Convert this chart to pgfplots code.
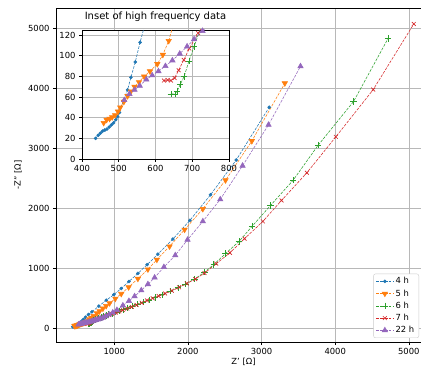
\documentclass[border=0pt]{standalone}
\usepackage{pgfplots}
\pgfplotsset{compat=1.18}
\usepackage{fontspec}
\setmainfont{DejaVu Sans}
\definecolor{c0}{HTML}{1F77B4}
\definecolor{c1}{HTML}{FF7F0E}
\definecolor{c2}{HTML}{2CA02C}
\definecolor{c3}{HTML}{D62728}
\definecolor{c4}{HTML}{9467BD}
\pgfplotsset{
  every axis/.append style={font=\fontsize{8.4bp}{10bp}\selectfont},
  common/.style={
    scale only axis, axis background/.style={fill=white},
    tick align=outside, tick pos=left, major tick length=3bp,
    grid=major, major grid style={color=black!28, line width=0.6bp},
    axis line style={line width=0.6bp}, every tick/.style={black, line width=0.6bp},
    /pgf/number format/assume math mode=true,
    /pgf/number format/1000 sep={}, scaled ticks=false,
  },
  ln/.style={line width=0.55bp, dash pattern=on 2.8bp off 1.3bp},
  s4/.style={ln, color=c0, mark=*, mark size=1.5bp, mark options={solid}},
  s5/.style={ln, color=c1, mark=triangle*, mark size=3.1bp, mark options={solid, rotate=180}},
  s6/.style={ln, color=c2, mark=+, mark size=3.2bp, mark options={solid, line width=0.65bp}},
  s7/.style={ln, color=c3, mark=x, mark size=2.7bp, mark options={solid, line width=0.65bp}},
  s22/.style={ln, color=c4, mark=triangle*, mark size=3.1bp, mark options={solid}},
}
\newcommand{\dA}{(437,20)(444,23)(450,25)(456,27)(462,28)(468,29)(474,31)(480,33)(486,35)(492,38)(497,41)(502,45)(512,56)(524,67)(533,79)(545,94)(558,113)(580,142)(610,180)(650,225)(697,270)(791,365)(892,463)(995,557)(1095,660)(1199,775)(1321,910)(1446,1055)(1592,1230)(1796,1483)(2027,1794)(2308,2221)(2656,2800)(3104,3679)}
\newcommand{\dB}{(459,35)(467,38)(475,39)(482,40.5)(490,42.5)(498,46)(504,50)(514,55.5)(524,61)(533,65.5)(543,70)(555,74.5)(569,80)(585,85)(605,92)(620,101)(636,114.5)(660,145)(688,172)(720,203)(764,245)(800,280)(846,325)(890,368)(937,415)(1015,490)(1095,570)(1195,680)(1321,822)(1457,978)(1579,1140)(1751,1361)(1955,1640)(2203,1985)(2511,2463)(2868,3116)(3316,4079)}
\newcommand{\dC}{(642,63)(653,63)(659,66)(667,72)(678,80)(691,95)(705,109)(722,126)(742,140)(765,152)(790,164)(818,177)(850,191)(886,207)(925,224)(968,243)(1015,263)(1065,285)(1120,309)(1180,335)(1245,364)(1315,396)(1390,430)(1470,467)(1557,507)(1652,555)(1761,612)(1864,670)(1968,735)(2090,815)(2226,930)(2352,1060)(2511,1240)(2692,1440)(2873,1697)(3122,2043)(3430,2465)(3769,3047)(4249,3774)(4719,4827)}
\newcommand{\dD}{(623,76)(633,76.5)(642,76)(652,78.5)(663,86)(677,96)(692,107)(716,122)(740,134)(765,146)(793,158)(823,171)(856,185)(892,200)(930,216)(972,234)(1018,254)(1067,276)(1120,299)(1177,324)(1238,352)(1303,384)(1372,420)(1445,460)(1522,495)(1603,533)(1690,575)(1782,622)(1880,678)(1985,742)(2100,815)(2226,915)(2385,1073)(2570,1253)(2769,1489)(3018,1777)(3271,2126)(3615,2587)(4009,3186)(4516,3973)(5067,5067)}
\newcommand{\dE}{(515,57)(529,63)(543,67)(557,71)(575,77)(591,81)(608,85)(627,90)(646,95.5)(666,102)(686,109)(705,116)(728,124)(752,133)(780,143)(810,155)(845,172)(885,195)(930,224)(980,258)(1036,300)(1117,375)(1199,450)(1276,528)(1367,627)(1457,730)(1548,840)(1674,1015)(1828,1211)(1995,1470)(2203,1777)(2439,2143)(2742,2704)(3095,3386)(3529,4361)}
\begin{document}
\begin{tikzpicture}
\begin{axis}[common,
  at={(56bp,24bp)}, anchor=south west, width=375bp, height=334bp,
  xmin=209, xmax=5301, ymin=-233, ymax=5333,
  xtick={1000,2000,3000,4000,5000}, ytick={0,1000,2000,3000,4000,5000},
  xlabel={Z' [Ω]}, ylabel={-Z'' [Ω]},
  xlabel style={at={(axis description cs:0.5,0)}, anchor=south, yshift=-23.6bp, inner sep=0pt},
  ylabel style={at={(axis description cs:0,0.5)}, anchor=south, yshift=34bp, inner sep=0pt},
  legend cell align=left,
  legend style={at={(rel axis cs:1,0)}, anchor=south east, xshift=-12bp, yshift=4bp,
    draw=black!20, rounded corners=2bp, fill=white, row sep=0.4bp, inner xsep=2.5bp, inner ysep=1.5bp,
    font=\fontsize{8.4bp}{10bp}\selectfont},
]
\addplot[s4] coordinates {\dA}; \addlegendentry{4 h}
\addplot[s5] coordinates {\dB}; \addlegendentry{5 h}
\addplot[s6] coordinates {\dC}; \addlegendentry{6 h}
\addplot[s7] coordinates {\dD}; \addlegendentry{7 h}
\addplot[s22] coordinates {\dE}; \addlegendentry{22 h}
\end{axis}
\begin{axis}[common,
  at={(82bp,207bp)}, anchor=south west, width=147bp, height=129bp,
  xmin=400, xmax=800, ymin=0, ymax=125,
  xtick={400,500,600,700,800}, ytick={0,20,40,60,80,100,120},
  title={Inset of high frequency data},
  title style={at={(0.5,1)}, anchor=south, yshift=1bp, inner sep=1bp, font=\fontsize{10bp}{12bp}\selectfont},
]
\addplot[s4] coordinates {\dA};
\addplot[s5] coordinates {\dB};
\addplot[s6] coordinates {\dC};
\addplot[s7] coordinates {\dD};
\addplot[s22] coordinates {\dE};
\end{axis}
\pgfresetboundingbox
\path[use as bounding box] (0,0) rectangle (421bp,366bp);
\end{tikzpicture}
\end{document}
